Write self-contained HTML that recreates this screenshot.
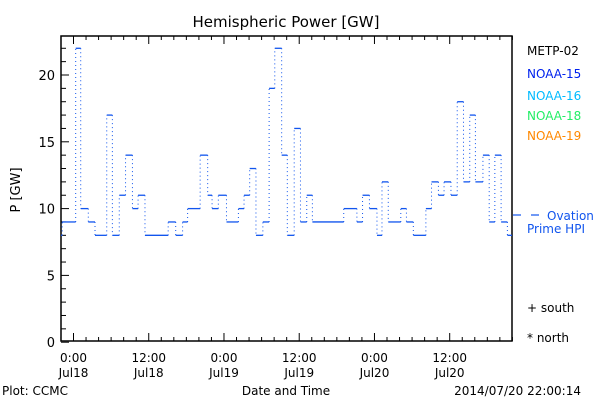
<!DOCTYPE html>
<html><head><meta charset="utf-8"><style>
body{margin:0;background:#fff}
svg text{font-family:"DejaVu Sans","Liberation Sans",sans-serif}
</style></head><body>
<svg id="chart" width="600" height="400" xmlns="http://www.w3.org/2000/svg">
<rect width="600" height="400" fill="#fff"/>
<text x="286" y="27" font-size="15" text-anchor="middle">Hemispheric Power [GW]</text>
<rect x="61" y="36" width="451" height="305" fill="none" stroke="#000" stroke-width="1.5"/>
<g id="yticks"></g>
<g id="xticks"></g>
<text x="20" y="190" font-size="13" text-anchor="middle" transform="rotate(-90 20 190)">P [GW]</text>
<text x="286" y="395" font-size="12" text-anchor="middle">Date and Time</text>
<text x="2" y="395" font-size="12">Plot: CCMC</text>
<text x="581" y="395" font-size="12" text-anchor="end">2014/07/20 22:00:14</text>
<g id="series"></g>
<g font-size="12">
<text x="527" y="55" fill="#000">METP-02</text>
<text x="527" y="78" fill="#0022ee">NOAA-15</text>
<text x="527" y="100" fill="#00bbff">NOAA-16</text>
<text x="527" y="120" fill="#22ee66">NOAA-18</text>
<text x="527" y="140" fill="#ff8800">NOAA-19</text>
<line x1="513" y1="215" x2="521" y2="215" stroke="#1155ee" stroke-width="1.2"/>
<line x1="531" y1="215" x2="539" y2="215" stroke="#1155ee" stroke-width="1.2"/>
<text x="547" y="220" fill="#1155ee">Ovation</text>
<text x="527" y="233" fill="#1155ee">Prime HPI</text>
<text x="527" y="312" fill="#000">+ south</text>
<text x="527" y="342" fill="#000">* north</text>
</g>
</svg>
<script>
const hours = [-2,-1.8,0.35,1.15,2.36,3.43,5.3,6.2,7.3,8.3,9.4,10.3,11.4,15.1,16.3,17.4,18.2,20.2,21.4,22.1,23.1,24.4,26.3,27.2,28.1,29.1,30.2,31.2,32.1,33.2,34.1,35.2,36.2,37.2,38.1,43.1,45.2,46.1,47.2,48.4,49.2,50.2,52.2,53.1,54.2,56.2,57.1,58.2,59.1,60.2,61.2,62.2,63.2,64.1,65.3,66.3,67.2,68.2,69.2];
const values = [8,9,22,10,9,8,17,8,11,14,10,11,8,9,8,9,10,14,11,10,11,9,10,11,13,8,9,19,22,14,8,16,9,11,9,10,9,11,10,8,12,9,10,9,8,10,12,11,12,11,18,12,17,12,14,9,14,9,8];
const endHour = 70;
const yTicks = [0,5,10,15,20];
const xTickLabels = [["0:00","Jul18"],["12:00","Jul18"],["0:00","Jul19"],["12:00","Jul19"],["0:00","Jul20"],["12:00","Jul20"]];
const NS="http://www.w3.org/2000/svg";
const X0=61,X1=512,Y0=341;
function x(h){return 73.5+h*6.27;}
function y(v){return 342.2-13.36*v;}
function mk(t,a,p){const e=document.createElementNS(NS,t);for(const k in a)e.setAttribute(k,a[k]);p.appendChild(e);return e;}
const yg=document.getElementById('yticks');
for(let v=0;v<=22;v++){
  const l=mk('line',{x1:X0,x2:X0+(v%5===0?8:5),y1:y(v),y2:y(v),stroke:'#000'},yg);
  
  
}
yTicks.forEach(v=>{
  const t=mk('text',{x:X0-6,y:y(v)+5,'font-size':13,'text-anchor':'end'},yg);
  
  
  t.textContent=v;
});
const xg=document.getElementById('xticks');
for(let h=-2;h<=70;h+=2){
  const major=h%12===0;
  const l=mk('line',{x1:x(h),x2:x(h),y1:Y0,y2:Y0-(major?8:4),stroke:'#000'},xg);
  
  
  const l2=mk('line',{x1:x(h),x2:x(h),y1:36,y2:36+(major?8:4),stroke:'#000'},xg);
  
  
}
xTickLabels.forEach((lb,i)=>{
  const t=mk('text',{x:x(i*12),y:362,'font-size':12,'text-anchor':'middle'},xg);
  
  
  t.textContent=lb[0];
  const t2=mk('text',{x:x(i*12),y:377,'font-size':12,'text-anchor':'middle'},xg);
  
  
  t2.textContent=lb[1];
});
const sg=document.getElementById('series');
for(let i=0;i<values.length;i++){
  const xa=Math.max(X0,x(hours[i])), xb=Math.min(X1,i+1<hours.length?x(hours[i+1]):x(endHour));
  const h=mk('line',{x1:xa,x2:xb,y1:y(values[i]),y2:y(values[i]),stroke:'#1155ee','stroke-width':1.3},sg);
  
  
  if(i+1<values.length){
    const v=mk('line',{x1:xb,x2:xb,y1:y(values[i]),y2:y(values[i+1]),stroke:'#1155ee','stroke-width':1,'stroke-dasharray':'1 3'},sg);
    
    
  }
}
</script>
</body></html>
